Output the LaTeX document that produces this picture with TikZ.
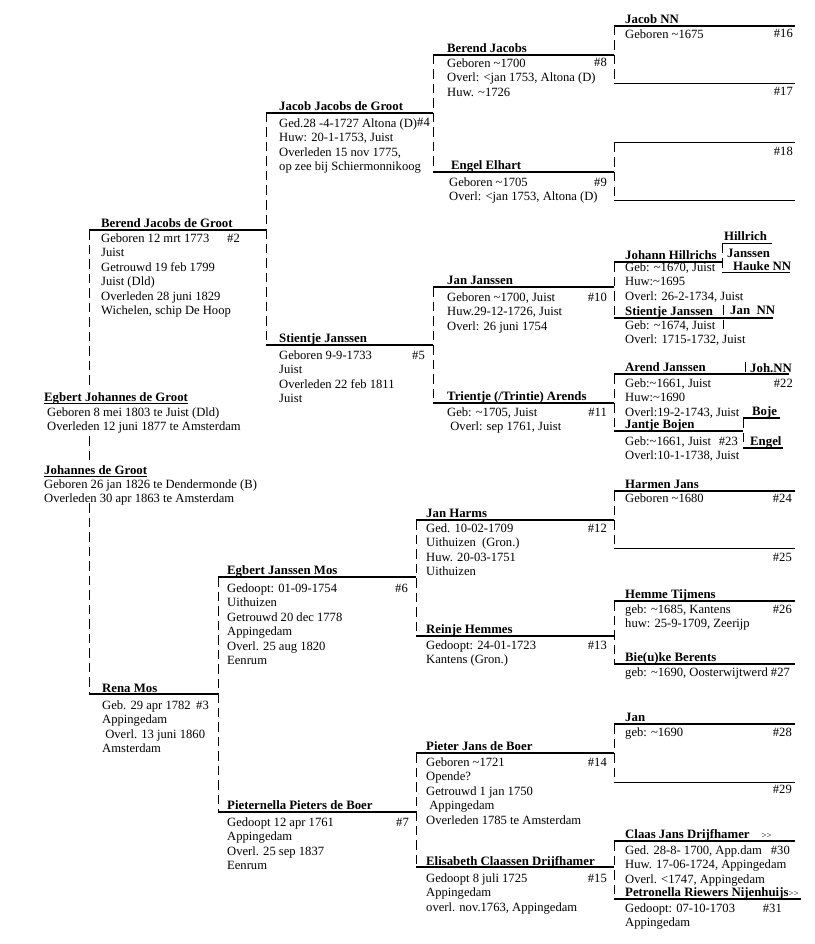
\documentclass[tikz,border=0pt]{standalone}
\usepackage{fontspec}
\setmainfont{Liberation Serif}
\usetikzlibrary{positioning}
\newcommand{\apx}{\textasciitilde}

\begin{document}
\begin{tikzpicture}[
  x=1pt, y=-1pt,
  every node/.style={font=\fontsize{12.6}{14.45}\selectfont, inner sep=0pt},
  pname/.style={anchor=base west, font=\fontsize{12.8}{14.45}\selectfont\bfseries},
  info/.style={anchor=north west, align=left},
  num/.style={anchor=base east},
  rule/.style={line width=1.8pt},
  thinrule/.style={line width=1pt},
  bar/.style={line width=0.9pt, dash pattern=on 9.5pt off 5pt},
]
 \useasboundingbox (0,0) rectangle (814,944);

 % ---- end points of the ancestor lines ----
 \coordinate (p2l) at (89,230);   \coordinate (p2r) at (266,230);
 \coordinate (p3l) at (89,694);   \coordinate (p3r) at (218,694);
 \coordinate (p4l) at (266,113);  \coordinate (p4r) at (433,113);
 \coordinate (p5l) at (266,345);  \coordinate (p5r) at (433,345);
 \coordinate (p6l) at (218,577);  \coordinate (p6r) at (416,577);
 \coordinate (p7l) at (218,812);  \coordinate (p7r) at (416,812);
 \coordinate (p8l) at (433,55);   \coordinate (p8r) at (614,55);
 \coordinate (p9l) at (433,172);  \coordinate (p9r) at (614,172);
 \coordinate (p10l) at (433,287); \coordinate (p10r) at (614,287);
 \coordinate (p11l) at (433,403); \coordinate (p11r) at (614,403);
 \coordinate (p12l) at (416,520); \coordinate (p12r) at (614,520);
 \coordinate (p13l) at (416,636); \coordinate (p13r) at (614,636);
 \coordinate (p14l) at (416,753); \coordinate (p14r) at (614,753);
 \coordinate (p15l) at (416,867); \coordinate (p15r) at (614,867);
 \coordinate (p16l) at (614,26);  \coordinate (p16r) at (795,26);
 \coordinate (p17l) at (614,84);  \coordinate (p17r) at (795,84);
 \coordinate (p18l) at (614,143); \coordinate (p18r) at (795,143);
 \coordinate (p19l) at (614,200); \coordinate (p19r) at (795,200);
 \coordinate (p20l) at (614,262); \coordinate (p20r) at (722,262);
 \coordinate (p21l) at (614,318); \coordinate (p21r) at (773,318);
 \coordinate (p22l) at (614,374); \coordinate (p22r) at (789,374);
 \coordinate (p23l) at (614,431); \coordinate (p23r) at (743,431);
 \coordinate (p24l) at (614,491); \coordinate (p24r) at (795,491);
 \coordinate (p25l) at (614,548); \coordinate (p25r) at (795,548);
 \coordinate (p26l) at (614,601); \coordinate (p26r) at (795,601);
 \coordinate (p27l) at (614,664); \coordinate (p27r) at (795,664);
 \coordinate (p28l) at (614,724); \coordinate (p28r) at (795,724);
 \coordinate (p29l) at (614,782); \coordinate (p29r) at (795,782);
 \coordinate (p30l) at (614,841); \coordinate (p30r) at (795,841);
 \coordinate (p31l) at (614,899); \coordinate (p31r) at (801,899);

 % ---- proband and son ----
 \node[pname] (n1) at (44,401) {Egbert Johannes de Groot};
 \node[info] (d1) at (47,406) {\strut Geboren 8 mei 1803 te Juist (Dld)\\Overleden 12 juni 1877 te Amsterdam};
 \node[pname] (n0) at (44,474) {Johannes de Groot};
 \node[info] (d0) at (44,478) {\strut Geboren 26 jan 1826 te Dendermonde (B)\\Overleden 30 apr 1863 te Amsterdam};

 % ---- parents ----
 \node[pname] (n2) at (101,227.5) {Berend Jacobs de Groot};
 \node[info] (d2) at (101,232) {\strut Geboren 12 mrt 1773\\Juist\\Getrouwd 19 feb 1799\\Juist (Dld)\\Overleden 28 juni 1829\\Wichelen, schip De Hoop};
 \node[num] (h2) at (240,242) {\#2};
 \node[pname] (n3) at (102,692) {Rena Mos};
 \node[info] (d3) at (102,699) {\strut Geb. 29 apr 1782\\Appingedam\\\ Overl. 13 juni 1860\\Amsterdam};
 \node[num] (h3) at (209,709) {\#3};

 % ---- grandparents ----
 \node[pname] (n4) at (279,110.5) {Jacob Jacobs de Groot};
 \node[info] (d4) at (279,117) {\strut Ged.28 -4-1727 Altona (D)\\Huw: 20-1-1753, Juist\\Overleden 15 nov 1775,\\op zee bij Schiermonnikoog};
 \node[num] (h4) at (430,127) {\#4};
 \node[pname] (n5) at (279,342.5) {Stientje Janssen};
 \node[info] (d5) at (279,349) {\strut Geboren 9-9-1733\\Juist\\Overleden 22 feb 1811\\Juist};
 \node[num] (h5) at (425,359) {\#5};
 \node[pname] (n6) at (227,574.5) {Egbert Janssen Mos};
 \node[info] (d6) at (227,582) {\strut Gedoopt: 01-09-1754\\Uithuizen\\Getrouwd 20 dec 1778\\Appingedam\\Overl. 25 aug 1820\\Eenrum};
 \node[num] (h6) at (408,592) {\#6};
 \node[pname] (n7) at (227,809.5) {Pieternella Pieters de Boer};
 \node[info] (d7) at (227,816) {\strut Gedoopt 12 apr 1761\\Appingedam\\Overl. 25 sep 1837\\Eenrum};
 \node[num] (h7) at (409,826) {\#7};

 % ---- great-grandparents ----
 \node[pname] (n8) at (447,52.5) {Berend Jacobs};
 \node[info] (d8) at (447,57) {\strut Geboren \apx1700\\Overl: <jan 1753, Altona (D)\\Huw. \apx1726};
 \node[num] (h8) at (607,67) {\#8};
 \node[pname] (n9) at (451,169.5) {Engel Elhart};
 \node[info] (d9) at (449,176) {\strut Geboren \apx1705\\Overl: <jan 1753, Altona (D)};
 \node[num] (h9) at (607,186) {\#9};
 \node[pname] (n10) at (447,284.5) {Jan Janssen};
 \node[info] (d10) at (447,291) {\strut Geboren \apx1700, Juist\\Huw.29-12-1726, Juist\\Overl: 26 juni 1754};
 \node[num] (h10) at (607,301) {\#10};
 \node[pname] (n11) at (447,400.5) {Trientje (/Trintie) Arends};
 \node[info] (d11) at (447,406) {\strut Geb: \apx1705, Juist\\\ Overl: sep 1761, Juist};
 \node[num] (h11) at (607,416) {\#11};
 \node[pname] (n12) at (426,517.5) {Jan Harms};
 \node[info] (d12) at (426,522) {\strut Ged. 10-02-1709\\Uithuizen\ \ (Gron.)\\Huw. 20-03-1751\\Uithuizen};
 \node[num] (h12) at (607,532) {\#12};
 \node[pname] (n13) at (426,633) {Reinje Hemmes};
 \node[info] (d13) at (426,639) {\strut Gedoopt: 24-01-1723\\Kantens (Gron.)};
 \node[num] (h13) at (607,649) {\#13};
 \node[pname] (n14) at (426,750.5) {Pieter Jans de Boer};
 \node[info] (d14) at (426,756) {\strut Geboren \apx1721\\Opende?\\Getrouwd 1 jan 1750\\\ Appingedam\\Overleden 1785 te Amsterdam};
 \node[num] (h14) at (607,766) {\#14};
 \node[pname] (n15) at (426,865) {Elisabeth Claassen Drijfhamer};
 \node[info] (d15) at (426,872) {\strut Gedoopt 8 juli 1725\\Appingedam\\overl. nov.1763, Appingedam};
 \node[num] (h15) at (607,882) {\#15};

 % ---- great-great-grandparents ----
 \node[pname] (n16) at (625,23.5) {Jacob NN};
 \node[info] (d16) at (625,28) {\strut Geboren \apx1675};
 \node[num] (h16) at (793,38) {\#16};
 \node[num] (h17) at (793,96) {\#17};
 \node[num] (h18) at (793,156) {\#18};
 \node[pname] (n20) at (625,259) {Johann Hillrichs};
 \node[info] (d20) at (625,261) {\strut Geb: \apx1670, Juist\\Huw:\apx1695\\Overl: 26-2-1734, Juist};
 \node[pname] (n21) at (625,315.5) {Stientje Janssen};
 \node[info] (d21) at (625,319) {\strut Geb: \apx1674, Juist\\Overl: 1715-1732, Juist};
 \node[pname] (n22) at (625,371) {Arend Janssen};
 \node[info] (d22) at (625,377) {\strut Geb:\apx1661, Juist\\Huw:\apx1690\\Overl:19-2-1743, Juist};
 \node[num] (h22) at (793,387) {\#22};
 \node[pname] (n23) at (625,428.5) {Jantje Bojen};
 \node[info] (d23) at (625,435) {\strut Geb:\apx1661, Juist\\Overl:10-1-1738, Juist};
 \node[num] (h23) at (738,445) {\#23};
 \node[pname] (n24) at (625,488) {Harmen Jans};
 \node[info] (d24) at (625,492) {\strut Geboren \apx1680};
 \node[num] (h24) at (792,502) {\#24};
 \node[num] (h25) at (792,561) {\#25};
 \node[pname] (n26) at (625,598) {Hemme Tijmens};
 \node[info] (d26) at (625,603) {\strut geb: \apx1685, Kantens\\huw: 25-9-1709, Zeerijp};
 \node[num] (h26) at (792,613) {\#26};
 \node[pname] (n27) at (625,661) {Bie(u)ke Berents};
 \node[info] (d27) at (625,666) {\strut geb: \apx1690, Oosterwijtwerd \#27};
 \node[pname] (n28) at (625,721.5) {Jan};
 \node[info] (d28) at (625,726) {\strut geb: \apx1690};
 \node[num] (h28) at (792,736) {\#28};
 \node[num] (h29) at (792,793) {\#29};
 \node[pname] (n30) at (625,838.5) {Claas Jans Drijfhamer\hspace{12pt}{\mdseries\fontsize{9}{10}\selectfont>{}>}};
 \node[info] (d30) at (625,844) {\strut Ged. 28-8- 1700, App.dam\\Huw. 17-06-1724, Appingedam\\Overl. <1747, Appingedam};
 \node[num] (h30) at (790,854) {\#30};
 \node[pname] (n31) at (625,896) {Petronella Riewers Nijenhuijs{\mdseries\fontsize{9}{10}\selectfont>{}>}};
 \node[info] (d31) at (625,902) {\strut Gedoopt: 07-10-1703\\Appingedam};
 \node[num] (h31) at (782,912) {\#31};

 % ---- one generation further (side notes) ----
 \node[pname] (n40) at (724,240.5) {Hillrich};
 \node[pname] (n40b) at (727,257) {Janssen};
 \node[pname] (n41) at (733,270.5) {Hauke NN};
 \node[pname] (n42) at (730,314.5) {Jan\ \ NN};
 \node[pname] (n44) at (750,372) {Joh.NN};
 \node[pname] (n46) at (752,415.5) {Boje};
 \node[pname] (n47) at (750,445.5) {Engel};
 \coordinate (q40l) at (722,243.5); \coordinate (q40r) at (772,243.5);
 \coordinate (q41l) at (722,272.5); \coordinate (q41r) at (790,272.5);
 \coordinate (q42t) at (723,305);   \coordinate (q42b) at (723,332);
 \coordinate (q44t) at (745,362);   \coordinate (q44b) at (745,374);
 \coordinate (q46l) at (743,418);   \coordinate (q46r) at (780,418);
 \coordinate (q47l) at (743,448);   \coordinate (q47r) at (783,448);

 % ---- name lines ----
 \draw[line width=1.3pt] ([yshift=-2.5pt]n1.base west) -- ([yshift=-2.5pt]n1.base east);
 \draw[line width=1.3pt] ([yshift=-2.5pt]n0.base west) -- ([yshift=-2.5pt]n0.base east);
 \foreach \i in {2,...,16,20,21,22,23,24,26,27,28,30,31}
   \draw[rule] (p\i l) -- (p\i r);
 \foreach \i in {17,18,19,25,29}
   \draw[thinrule] (p\i l) -- (p\i r);
 \draw[rule] (q40l) -- (q40r);
 \draw[rule] (q41l) -- (q41r);
 \draw[rule] (q46l) -- (q46r);
 \draw[rule] (q47l) -- (q47r);

 % ---- dashed brackets ----
 \coordinate (b1) at (89,388);
 \coordinate (b2) at (89,436);
 \coordinate (b3) at (89,461);
 \coordinate (b4) at (89,503);
 \draw[bar] (p2l) -- (b1);
 \draw[bar] (b2) -- (b3);
 \draw[bar] (b4) -- (p3l);
 \draw[bar] (p4l) -- (p5l);
 \draw[bar] (p6l) -- (p7l);
 \draw[bar] (p8l) -- (p9l);
 \draw[bar] (p10l) -- (p11l);
 \draw[bar] (p12l) -- (p13l);
 \draw[bar] (p14l) -- (p15l);
 \draw[bar] (p16l) -- (p17l);
 \draw[bar] (p18l) -- (p19l);
 \draw[bar] (p20l) -- (p21l);
 \draw[bar] (p22l) -- (p23l);
 \draw[bar] (p24l) -- (p25l);
 \draw[bar] (p26l) -- (p27l);
 \draw[bar] (p28l) -- (p29l);
 \draw[bar] (p30l) -- (p31l);
 \draw[bar] (q40l) -- (q41l);
 \draw[bar] (q42t) -- (q42b);
 \draw[bar] (q44t) -- (q44b);
 \draw[bar] (q46l) -- (q47l);

\end{tikzpicture}
\end{document}
